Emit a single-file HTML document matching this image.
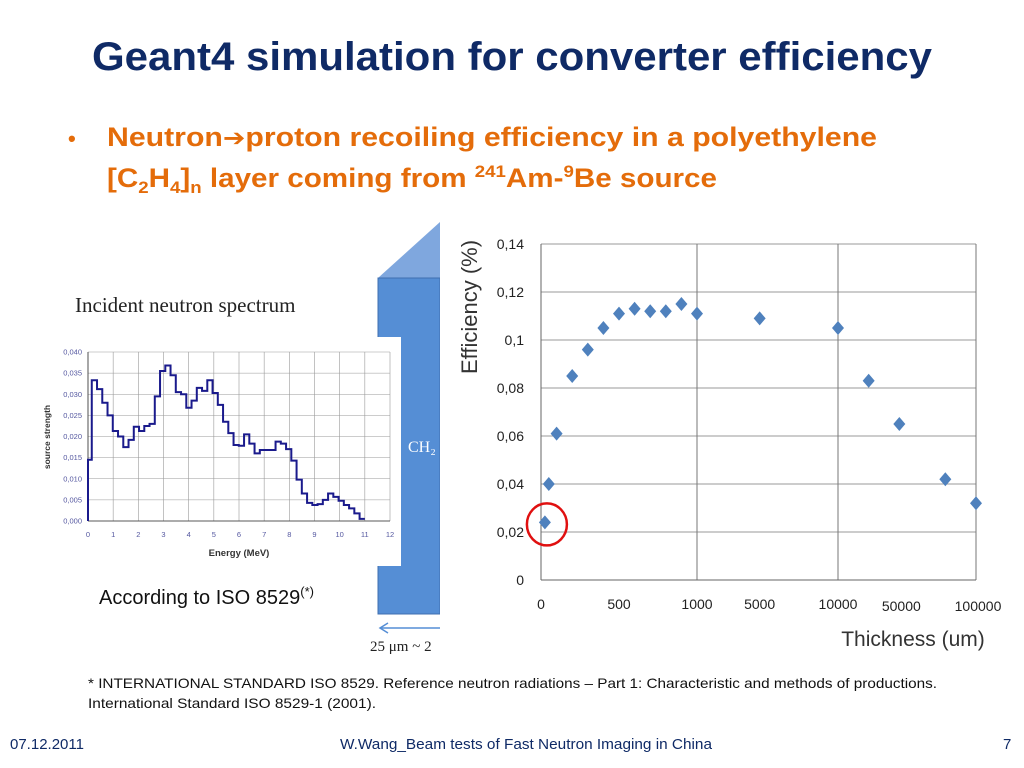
<!DOCTYPE html>
<html><head><meta charset="utf-8"><style>
html,body{margin:0;padding:0;background:#fff;}
svg{display:block;font-family:"Liberation Sans",sans-serif;}
</style></head><body>
<svg id="slide" width="1024" height="768" viewBox="0 0 1024 768" xmlns="http://www.w3.org/2000/svg">
<text x="92" y="70" font-size="40" font-weight="bold" fill="#0F2A66" textLength="840" lengthAdjust="spacingAndGlyphs">Geant4 simulation for converter efficiency</text>
<g fill="#E46C0A" font-weight="bold" font-size="27">
<text x="68" y="146" font-size="22">•</text>
<text x="107" y="146" textLength="770" lengthAdjust="spacingAndGlyphs">Neutron<tspan font-family="DejaVu Sans,sans-serif" font-size="24">➔</tspan>proton recoiling efficiency in a polyethylene</text>
<text x="107" y="187" textLength="610" lengthAdjust="spacingAndGlyphs">[C<tspan font-size="17" dy="6">2</tspan><tspan dy="-6">H</tspan><tspan font-size="17" dy="6">4</tspan><tspan dy="-6">]</tspan><tspan font-size="17" dy="6">n</tspan><tspan dy="-6"> layer coming from </tspan><tspan font-size="17" dy="-10">241</tspan><tspan dy="10">Am-</tspan><tspan font-size="17" dy="-10">9</tspan><tspan dy="10">Be source</tspan></text>
</g>
<g>
<polygon points="378,278 440,222 440,278" fill="#7FA7DE"/>
<rect x="378" y="278" width="62" height="336" fill="#558ED5" stroke="#3F6FB0"/>
<text x="408" y="452" font-family="Liberation Serif,serif" font-size="16" fill="#fff">CH₂</text>
</g>
<rect x="440" y="215" width="584" height="450" fill="#fff"/>
<text x="75" y="312" font-family="Liberation Serif,serif" font-size="21" fill="#222">Incident neutron spectrum</text>
<rect x="40" y="337" width="361" height="229" fill="#fff"/>
<g id="left"></g>
<g id="right"></g>
<text x="99" y="604" font-size="20" fill="#111">According to ISO 8529<tspan font-size="13" dy="-8">(*)</tspan></text>
<g>
<line x1="380" y1="628" x2="440" y2="628" stroke="#558ED5" stroke-width="1.5"/>
<polyline points="388,623 380,628 388,633" fill="none" stroke="#558ED5" stroke-width="1.5"/>
<text x="370" y="651" font-family="Liberation Serif,serif" font-size="15" fill="#222">25 μm ~ 2</text>
</g>
<g font-size="14" fill="#111">
<text x="88" y="688" textLength="849" lengthAdjust="spacingAndGlyphs">*  INTERNATIONAL STANDARD ISO 8529. Reference neutron radiations – Part 1: Characteristic and methods of productions.</text>
<text x="88" y="708" textLength="288" lengthAdjust="spacingAndGlyphs">International Standard ISO 8529-1 (2001).</text>
</g>
<g font-size="15" fill="#0F2A66">
<text x="10" y="749">07.12.2011</text>
<text x="340" y="749" textLength="372" lengthAdjust="spacingAndGlyphs">W.Wang_Beam tests of Fast Neutron Imaging in China</text>
<text x="1003" y="749">7</text>
</g>
</svg>
<script>
// Left chart data
const specTicksX = [0,1,2,3,4,5,6,7,8,9,10,11,12];
const specTicksY = ["0,000","0,005","0,010","0,015","0,020","0,025","0,030","0,035","0,040"];
const specFirstBin = [0, 0.15, 0.0145];
const specValues = [0.0333,0.0312,0.028,0.025,0.0213,0.020,0.0175,0.0192,0.0223,0.0213,0.0225,0.023,0.0295,0.0355,0.0368,0.0345,0.0305,0.030,0.0268,0.0285,0.0315,0.0308,0.0333,0.0303,0.0275,0.0235,0.0208,0.018,0.0178,0.0205,0.0183,0.016,0.0168,0.0168,0.0168,0.0188,0.0183,0.017,0.0143,0.0098,0.0065,0.0043,0.0038,0.004,0.005,0.0065,0.0057,0.0048,0.0038,0.003,0.0018,0.0005];
const specEnd = 11;
// Right chart data
const thickness = [25,50,100,200,300,400,500,600,700,800,900,1000,5000,10000,30000,50000,80000,100000];
const efficiency = [0.024,0.040,0.061,0.085,0.096,0.105,0.111,0.113,0.112,0.112,0.115,0.111,0.109,0.105,0.083,0.065,0.042,0.032];
const effTicksY = ["0","0,02","0,04","0,06","0,08","0,1","0,12","0,14"];
const effTicksX = [0,500,1000,5000,10000,50000,100000];
const effTickLabels = ["0","500","1000","5000","10000","50000","100000"];

const NS="http://www.w3.org/2000/svg";
function mk(tag,attrs,parent,text){const e=document.createElementNS(NS,tag);for(const k in attrs)e.setAttribute(k,attrs[k]);if(text!==undefined)e.textContent=text;parent.appendChild(e);return e;}

// LEFT
const L=document.getElementById('left');
const lx=v=>88+v*(390-88)/12, ly=v=>521-v*(521-352)/0.04;
specTicksY.forEach((t,i)=>{const v=i*0.005;
 const g=mk('line',{x1:88,x2:390,y1:ly(v),y2:ly(v),stroke:'#999','stroke-width':0.6},L);
 
 
 const tx=mk('text',{x:82,y:ly(v)+2.5,'font-size':7.5,'text-anchor':'end',fill:'#5558A0'},L,t);
 
 
});
specTicksX.forEach(v=>{
 const g=mk('line',{x1:lx(v),x2:lx(v),y1:352,y2:521,stroke:'#999','stroke-width':0.6},L);
 
 
 const tx=mk('text',{x:lx(v),y:537,'font-size':7.5,'text-anchor':'middle',fill:'#5558A0'},L,String(v));
 
 
});
mk('line',{x1:88,x2:390,y1:521,y2:521,stroke:'#333','stroke-width':0.8},L);
mk('line',{x1:88,x2:88,y1:352,y2:521,stroke:'#333','stroke-width':0.8},L);
const w=(specEnd-specFirstBin[1])/specValues.length;
let d=`M${lx(0)},${ly(0)} L${lx(0)},${ly(specFirstBin[2])} L${lx(specFirstBin[1])},${ly(specFirstBin[2])}`;
specValues.forEach((v,i)=>{const a=specFirstBin[1]+i*w;d+=` L${lx(a)},${ly(v)} L${lx(a+w)},${ly(v)}`;});
const sp=mk('path',{d:d,fill:'none',stroke:'#1A1A8C','stroke-width':2},L);


const xl=mk('text',{x:239,y:556,'font-size':9.5,'font-weight':'bold','text-anchor':'middle',fill:'#333'},L,'Energy (MeV)');


const yl=mk('text',{x:0,y:0,'font-size':8.5,'font-weight':'bold','text-anchor':'middle',fill:'#333',transform:'translate(50,437) rotate(-90)'},L,'source strength');



// RIGHT
const R=document.getElementById('right');
function rx(t){
 if(t<=1000) return 541+t*(697-541)/1000;
 if(t<=10000) return 697+(t-1000)*(838-697)/9000;
 return 838+(t-10000)*(976-838)/90000;
}
const ry=v=>580-v*(580-244)/0.14;
effTicksY.forEach((t,i)=>{const v=i*0.02;
 if(i>0){const g=mk('line',{x1:541,x2:976,y1:ry(v),y2:ry(v),stroke:'#999','stroke-width':1},R);
 
 }
 const tx=mk('text',{x:524,y:ry(v)+5,'font-size':14,'text-anchor':'end',fill:'#222'},R,t);
 
 
});
[1000,10000,100000].forEach(t=>{const g=mk('line',{x1:rx(t),x2:rx(t),y1:244,y2:580,stroke:'#777','stroke-width':1},R);
 
 });
mk('line',{x1:541,x2:976,y1:580,y2:580,stroke:'#666','stroke-width':1},R);
mk('line',{x1:541,x2:541,y1:244,y2:580,stroke:'#666','stroke-width':1},R);
effTicksX.forEach((t,i)=>{
 const tx=mk('text',{x:rx(t)+(i>=5?2:0),y:i>=5?611:609,'font-size':14,'text-anchor':'middle',fill:'#222'},R,effTickLabels[i]);
 
 
});
thickness.forEach((t,i)=>{const cx=rx(t),cy=ry(efficiency[i]);
 const p=mk('polygon',{points:`${cx},${cy-7} ${cx+6},${cy} ${cx},${cy+7} ${cx-6},${cy}`,fill:'#4F81BD'},R);
 
 
});
const c=mk('ellipse',{cx:rx(thickness[0])+2,cy:ry(efficiency[0])+2,rx:20,ry:21,fill:'none',stroke:'#E01010','stroke-width':2.5},R);


const xt=mk('text',{x:913,y:646,'font-size':21,'text-anchor':'middle',fill:'#333'},R,'Thickness (um)');


const yt=mk('text',{x:0,y:0,'font-size':22,'text-anchor':'middle',fill:'#333',transform:'translate(477,307) rotate(-90)'},R,'Efficiency (%)');


</script>
</body></html>
